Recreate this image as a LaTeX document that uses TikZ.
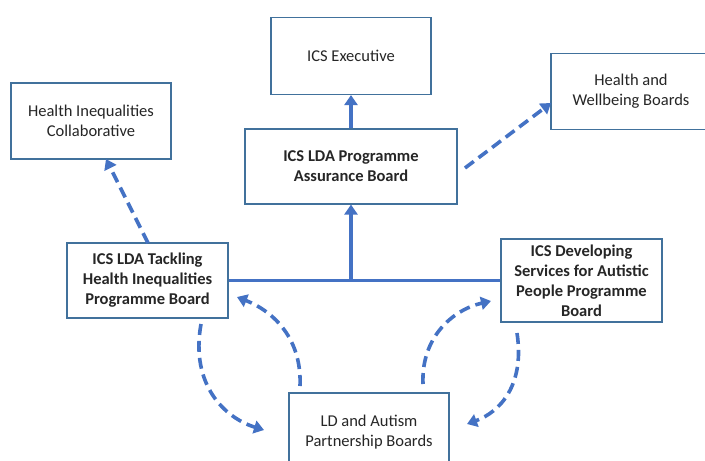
\documentclass[tikz,border=0pt]{standalone}
\usepackage{fontspec}
\setmainfont{Carlito}
\usetikzlibrary{arrows.meta}
\definecolor{arrowblue}{HTML}{4472C4}
\definecolor{boxline}{HTML}{41719C}
\definecolor{txt}{HTML}{262626}
\begin{document}
\begin{tikzpicture}[x=1pt,y=-1pt,
  box/.style={draw=boxline, line width=1.1pt, fill=white, text=txt, align=center,
    font=\fontsize{16.5}{20}\selectfont, inner sep=0pt, minimum width=160pt, minimum height=76pt},
  bbox/.style={box, font=\fontsize{16.5}{20}\selectfont\bfseries},
  tip/.style={-{Triangle[length=10pt,width=13pt]}},
  conn/.style={draw=arrowblue, line width=3.6pt, tip},
  dconn/.style={conn, dash pattern=on 11pt off 6pt}]
\useasboundingbox (0,0) rectangle (705,461);
\node[box, minimum height=77pt] (exec) at (351,56) {ICS Executive};
\node[box] (collab) at (91,121) {Health Inequalities\\Collaborative};
\node[box] (hw) at (631,91.5) {Health and\\Wellbeing Boards};
\node[bbox, minimum width=212pt, minimum height=75pt] (assur) at (351,166.5) {ICS LDA Programme\\Assurance Board};
\node[bbox, minimum width=161pt, minimum height=75pt] (tack) at (147.5,280.5) {ICS LDA Tackling\\Health Inequalities\\Programme Board};
\node[bbox, minimum width=161pt, minimum height=83pt] (dev) at (581.5,280.5) {ICS Developing\\Services for Autistic\\People Programme\\Board};
\node[box, minimum height=78pt] (ld) at (369,432) {LD and Autism\\Partnership Boards};
% solid connectors
\draw[arrowblue, line width=3.6pt] (tack.east) -- (dev.west);
\draw[conn] (tack.east -| assur.south) -- (assur.south);
\draw[conn] (assur.north) -- (exec.south);
% dashed straight
\coordinate (cs) at (148,243);
\coordinate (ce) at (106,159);
\draw[dconn] (cs) -- (ce);
\coordinate (hs) at (465,168);
\coordinate (he) at (551,103);
\draw[dconn] (hs) -- (he);
% curved
\coordinate (l1s) at (201,324);
\coordinate (l1e) at (264,430);
\draw[dconn] (l1s) .. controls (190,385) and (225,418) .. (l1e);
\coordinate (l2s) at (300,386);
\coordinate (l2e) at (237,297);
\draw[dconn] (l2s) .. controls (302,340) and (275,312) .. (l2e);
\coordinate (r1s) at (423,384);
\coordinate (r1e) at (491,301);
\draw[dconn] (r1s) .. controls (421,338) and (452,310) .. (r1e);
\coordinate (r2s) at (517,333);
\coordinate (r2e) at (467,424);
\draw[dconn] (r2s) .. controls (525,385) and (500,412) .. (r2e);
\end{tikzpicture}
\end{document}
